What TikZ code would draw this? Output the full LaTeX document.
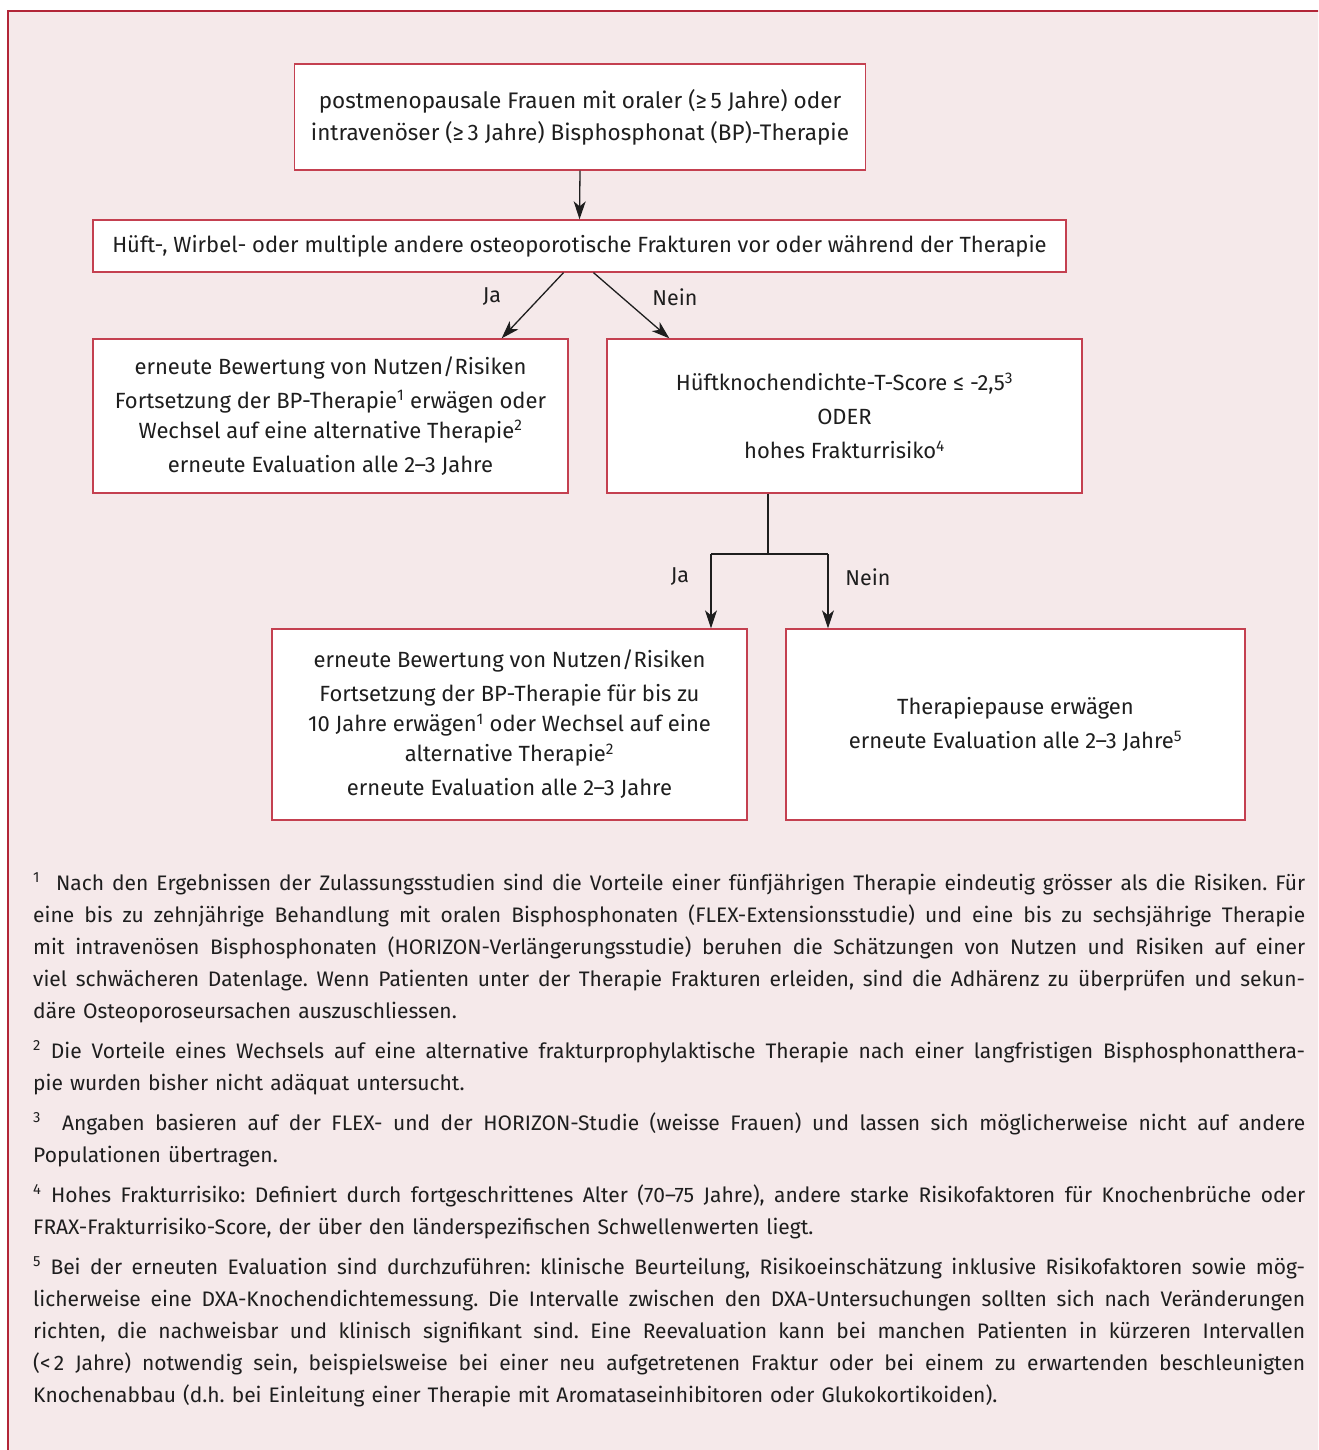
\documentclass[tikz,border=0pt]{standalone}
\usepackage{fontspec}
\setmainfont{Fira Sans}
\usetikzlibrary{arrows.meta}
\definecolor{framered}{RGB}{178,38,56}
\definecolor{boxred}{RGB}{196,64,80}
\definecolor{pinkbg}{RGB}{245,233,234}
\definecolor{txt}{RGB}{30,30,30}
\setlength\parindent{0pt}
\newlength\fnw \setlength\fnw{1272pt}
\newcommand\fl[1]{\makebox[\fnw][s]{\spaceskip=\fontdimen2\font plus 1fil\relax\xspaceskip=\spaceskip #1}}
\newcommand\supn[1]{\textsuperscript{#1}}
\tikzset{
  box/.style={draw=boxred, line width=1.3pt, fill=white, inner sep=0pt, align=center,
    text=txt, font=\fontsize{22}{30}\selectfont},
  arr/.style={draw=txt, line width=1.3pt, -{Stealth[length=18pt,width=12pt,inset=5pt]}},
  ln/.style={draw=txt, line width=1.3pt},
  lbl/.style={text=txt, inner sep=0pt, font=\fontsize{21.5}{24}\selectfont},
  fn/.style={anchor=base west, inner sep=0pt, text width=1272pt, align=left,
    text=txt, font=\fontsize{21}{32}\selectfont\frenchspacing}
}
\begin{document}
\begin{tikzpicture}[x=1pt,y=-1pt]
\path[use as bounding box, fill=white] (0,0) rectangle (1318,1450);
\clip (0,0) rectangle (1318,1450);
\fill[pinkbg] (7.5,11) rectangle (1345,1480);
\draw[draw=framered, line width=2pt] (7.5,1480) -- (7.5,11) -- (1345,11);

\node[box, minimum width=571pt, minimum height=106pt, font=\fontsize{22.5}{30}\selectfont] (b1) at (580,117)
  {postmenopausale Frauen mit oraler (≥\,5 Jahre) oder\\[2pt]
   intravenöser (≥\,3 Jahre) Bisphosphonat (BP)-Therapie};
\node[box, minimum width=973pt, minimum height=52pt] (b2) at (579.5,246)
  {Hüft-, Wirbel- oder multiple andere osteoporotische Frakturen vor oder während der Therapie};
\node[box, minimum width=475pt, minimum height=154pt] (b3) at (330.5,416)
  {erneute Bewertung von Nutzen/Risiken\\[4pt]
   Fortsetzung der BP-Therapie\supn{1} erwägen oder\\
   Wechsel auf eine alternative Therapie\supn{2}\\[4pt]
   erneute Evaluation alle 2–3 Jahre};
\node[box, minimum width=475pt, minimum height=154pt] (b4) at (844.5,416)
  {Hüftknochendichte-T-Score ≤ -2,5\supn{3}\\[4pt]
   ODER\\[4pt]
   hohes Frakturrisiko\supn{4}};
\node[box, minimum width=475pt, minimum height=191pt] (b5) at (509.5,724.5)
  {erneute Bewertung von Nutzen/Risiken\\[4pt]
   Fortsetzung der BP-Therapie für bis zu\\
   10 Jahre erwägen\supn{1} oder Wechsel auf eine\\
   alternative Therapie\supn{2}\\[4pt]
   erneute Evaluation alle 2–3 Jahre};
\node[box, minimum width=459pt, minimum height=191pt] (b6) at (1015.5,724.5)
  {Therapiepause erwägen\\[4pt]
   erneute Evaluation alle 2–3 Jahre\supn{5}};

\draw[arr] (b1.south) -- (b2.north);
\draw[arr] ([xshift=-16pt]b2.south) -- ([xshift=-67pt]b3.north east);
\draw[arr] ([xshift=14pt]b2.south) -- ([xshift=63pt]b4.north west);
\coordinate (j) at ([xshift=-76.5pt,yshift=-61pt]b4.south);
\coordinate (jl) at (711,554);
\coordinate (jr) at (828,554);
\draw[ln] ([xshift=-76.5pt]b4.south) -- (j);
\draw[ln] (jl) -- (jr);
\draw[arr] (jl) -- (jl |- b5.north);
\draw[arr] (jr) -- (jr |- b6.north);

\node[lbl] (ja1) at (492,297) {Ja};
\node[lbl] (nein1) at (675,297) {Nein};
\node[lbl] (ja2) at (680,577) {Ja};
\node[lbl] (nein2) at (868,577) {Nein};

\node[fn] (fn1) at (33,890) {%
\fl{\supn{1}\ \ Nach den Ergebnissen der Zulassungsstudien sind die Vorteile einer fünfjährigen Therapie eindeutig grösser als die Risiken. Für}\\
\fl{eine bis zu zehnjährige Behandlung mit oralen Bisphosphonaten (FLEX-Extensionsstudie) und eine bis zu sechsjährige Therapie}\\
\fl{mit intravenösen Bisphosphonaten (HORIZON-Verlängerungsstudie) beruhen die Schätzungen von Nutzen und Risiken auf einer}\\
\fl{viel schwächeren Datenlage. Wenn Patienten unter der Therapie Frakturen erleiden, sind die Adhärenz zu überprüfen und sekun-}\\
däre Osteoporoseursachen auszuschliessen.};
\node[fn] (fn2) at (33,1058) {%
\fl{\supn{2} Die Vorteile eines Wechsels auf eine alternative frakturprophylaktische Therapie nach einer langfristigen Bisphosphonatthera-}\\
pie wurden bisher nicht adäquat untersucht.};
\node[fn] (fn3) at (33,1130) {%
\fl{\supn{3}\ \ Angaben basieren auf der FLEX- und der HORIZON-Studie (weisse Frauen) und lassen sich möglicherweise nicht auf andere}\\
Populationen übertragen.};
\node[fn] (fn4) at (33,1202) {%
\fl{\supn{4} Hohes Frakturrisiko: Definiert durch fortgeschrittenes Alter (70–75 Jahre), andere starke Risikofaktoren für Knochenbrüche oder}\\
FRAX-Frakturrisiko-Score, der über den länderspezifischen Schwellenwerten liegt.};
\node[fn] (fn5) at (33,1274) {%
\fl{\supn{5} Bei der erneuten Evaluation sind durchzuführen: klinische Beurteilung, Risikoeinschätzung inklusive Risikofaktoren sowie mög-}\\
\fl{licherweise eine DXA-Knochendichtemessung. Die Intervalle zwischen den DXA-Untersuchungen sollten sich nach Veränderungen}\\
\fl{richten, die nachweisbar und klinisch signifikant sind. Eine Reevaluation kann bei manchen Patienten in kürzeren Intervallen}\\
\fl{(<\,2 Jahre) notwendig sein, beispielsweise bei einer neu aufgetretenen Fraktur oder bei einem zu erwartenden beschleunigten}\\
Knochenabbau (d.h. bei Einleitung einer Therapie mit Aromataseinhibitoren oder Glukokortikoiden).};
\end{tikzpicture}
\end{document}
